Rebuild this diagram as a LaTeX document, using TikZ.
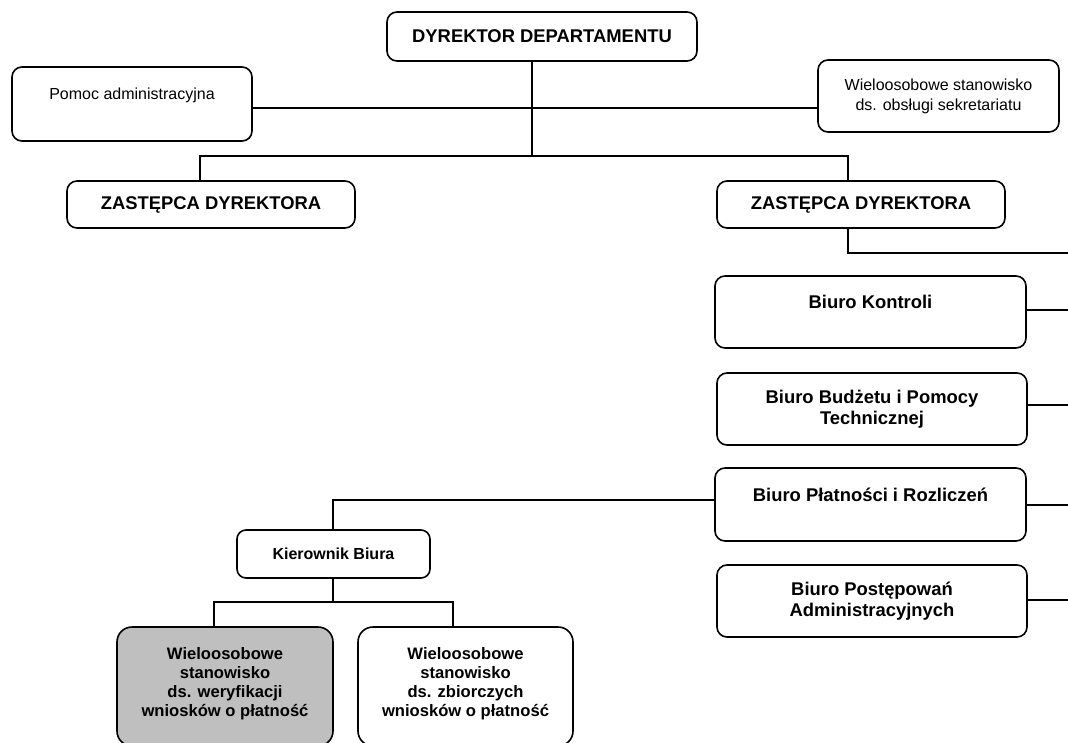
\documentclass[tikz,border=0pt]{standalone}
\usepackage{fontspec}
\setmainfont{Liberation Sans}
\begin{document}
\begin{tikzpicture}[x=1pt,y=-1pt,
  box/.style={draw, line width=1.6pt, rounded corners=10pt, align=center, inner sep=0pt},
  head/.style={font=\fontsize{18.4}{20.5}\selectfont\bfseries},
  plain/.style={font=\fontsize{16}{20}\selectfont},
  minor/.style={font=\fontsize{16}{19}\selectfont\bfseries},
  post/.style={font=\fontsize{16.6}{19}\selectfont\bfseries},
  link/.style={line width=1.6pt}]
\useasboundingbox (0,0) rectangle (1068,742);
\clip (0,0) rectangle (1068,742);

% top level
\node[box,head,minimum width=310pt,minimum height=49pt] (dyr) at (542,36.5) {DYREKTOR DEPARTAMENTU};
\node[box,plain,minimum width=240pt,minimum height=74pt] (pomoc) at (132,104) {Pomoc administracyjna\\~};
\node[box,plain,minimum width=241pt,minimum height=72pt] (sekr) at (938.5,96) {Wieloosobowe stanowisko\\ds. obsługi sekretariatu};

% deputies
\node[box,head,minimum width=288pt,minimum height=47pt] (z1) at (211,204.5) {ZASTĘPCA DYREKTORA};
\node[box,head,minimum width=288pt,minimum height=47pt] (z2) at (861,204.5) {ZASTĘPCA DYREKTORA};

% offices
\node[box,head,minimum width=311pt,minimum height=72pt] (kontrola) at (870.5,312) {Biuro Kontroli\\~};
\node[box,head,minimum width=310pt,minimum height=72pt] (budzet) at (872,409) {Biuro Budżetu i Pomocy\\Technicznej};
\node[box,head,minimum width=311pt,minimum height=73pt] (platn) at (870.5,504.5) {Biuro Płatności i Rozliczeń\\~};
\node[box,head,minimum width=310pt,minimum height=72pt] (postep) at (872,601) {Biuro Postępowań\\Administracyjnych};

% payments office staff
\node[box,minor,rounded corners=9pt,minimum width=193pt,minimum height=48pt] (kier) at (333.5,554) {Kierownik Biura};
\node[box,post,rounded corners=15pt,fill=black!25,minimum width=216pt,minimum height=119pt] (weryf) at (225,686.5) {Wieloosobowe\\stanowisko\\ds. weryfikacji\\wniosków o płatność\\[-9pt]~};
\node[box,post,rounded corners=15pt,minimum width=215pt,minimum height=119pt] (zbior) at (465.5,686.5) {Wieloosobowe\\stanowisko\\ds. zbiorczych\\wniosków o płatność\\[-9pt]~};

% junction points
\coordinate (spine) at (532,156);
\coordinate (h1) at (532,108);
\coordinate (zl) at (200,156);
\coordinate (zr) at (848,156);
\coordinate (zb) at (848,253);
\coordinate (edge) at (1072,0);
\coordinate (pk) at (333,500);
\coordinate (kb) at (333,602);
\coordinate (kl) at (214,602);
\coordinate (kr) at (453,602);

% connectors
\draw[link] (dyr.south -| spine) -- (spine);
\draw[link] (pomoc.east |- h1) -- (sekr.west |- h1);
\draw[link] (z1.north -| zl) -- (zl) -- (zr) -- (z2.north -| zr);
\draw[link] (z2.south -| zb) -- (zb) -- (zb -| edge);
\draw[link] ([yshift=2pt]kontrola.east) -- ([yshift=2pt]kontrola.east -| edge);
\draw[link] ([yshift=4pt]budzet.east) -- ([yshift=4pt]budzet.east -| edge);
\draw[link] ([yshift=-0.5pt]platn.east) -- ([yshift=-0.5pt]platn.east -| edge);
\draw[link] ([yshift=1pt]postep.east) -- ([yshift=1pt]postep.east -| edge);
\draw[link] (platn.west |- pk) -- (pk) -- (kier.north -| pk);
\draw[link] (kier.south -| kb) -- (kb);
\draw[link] (weryf.north -| kl) -- (kl) -- (kr) -- (zbior.north -| kr);
\end{tikzpicture}
\end{document}
